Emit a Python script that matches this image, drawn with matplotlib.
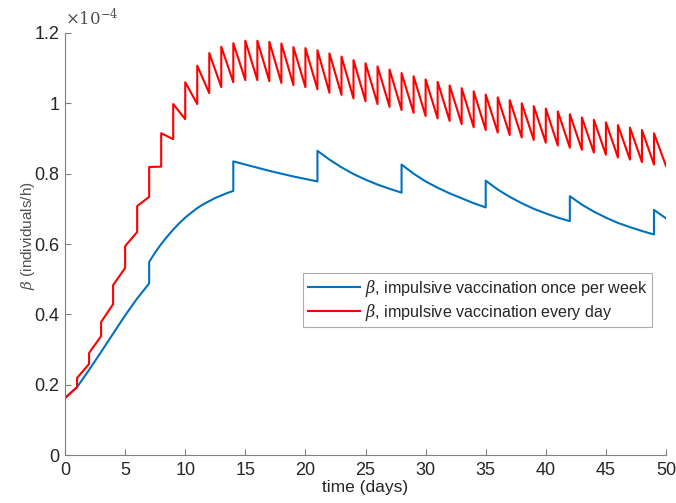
import matplotlib.pyplot as plt
import numpy as np

plt.rcParams["font.family"] = ["Liberation Sans", "DejaVu Sans"]
plt.rcParams["mathtext.fontset"] = "dejavuserif"

# values in units of 1e-4

# weekly impulse (blue): time, value (duplicate time = jump)
blue_t = [0, 1, 2, 3, 4, 5, 6, 7, 7,
          7.5, 8, 8.5, 9, 9.5, 10, 10.5, 11, 11.5, 12, 12.5, 13, 13.5, 14, 14,
          15, 16, 17, 18, 19, 20, 21, 21,
          22, 23, 24, 25, 26, 27, 28, 28,
          29, 30, 31, 32, 33, 34, 35, 35,
          36, 37, 38, 39, 40, 41, 42, 42,
          43, 44, 45, 46, 47, 48, 49, 49, 50]
blue_y = [0.162, 0.193, 0.242, 0.293, 0.345, 0.397, 0.445, 0.488, 0.549,
          0.576, 0.600, 0.621, 0.641, 0.659, 0.675, 0.689, 0.702, 0.713, 0.722,
          0.731, 0.738, 0.745, 0.751, 0.835,
          0.826, 0.817, 0.808, 0.800, 0.792, 0.785, 0.778, 0.865,
          0.840, 0.818, 0.799, 0.783, 0.769, 0.757, 0.746, 0.826,
          0.800, 0.778, 0.760, 0.744, 0.730, 0.716, 0.704, 0.780,
          0.755, 0.734, 0.716, 0.700, 0.687, 0.675, 0.665, 0.736,
          0.712, 0.692, 0.675, 0.660, 0.648, 0.637, 0.627, 0.697, 0.673]

# daily impulse (red): value just before and just after each day's jump
days = list(range(1, 50))
red_start = 0.162
red_before = [0.193, 0.259, 0.338, 0.429, 0.532, 0.634, 0.734, 0.820, 0.898, 0.955,
              0.998, 1.029, 1.046, 1.060, 1.066, 1.066, 1.063, 1.058, 1.052, 1.046,
              1.040, 1.030, 1.024, 1.014, 1.006, 0.998, 0.990, 0.981, 0.973, 0.964,
              0.957, 0.950, 0.941, 0.932, 0.924, 0.917, 0.910, 0.903, 0.896, 0.888,
              0.880, 0.874, 0.868, 0.860, 0.854, 0.846, 0.840, 0.833, 0.826]
red_after = [0.219, 0.290, 0.378, 0.483, 0.594, 0.708, 0.819, 0.915, 0.998, 1.060,
             1.107, 1.143, 1.161, 1.171, 1.178, 1.178, 1.175, 1.170, 1.160, 1.157,
             1.151, 1.142, 1.133, 1.123, 1.114, 1.105, 1.096, 1.086, 1.077, 1.068,
             1.061, 1.051, 1.043, 1.034, 1.025, 1.017, 1.009, 1.000, 0.992, 0.985,
             0.977, 0.969, 0.960, 0.953, 0.946, 0.938, 0.931, 0.924, 0.915]
red_end = 0.822

red_t = [0]
red_y = [red_start]
for d, b, a in zip(days, red_before, red_after):
    red_t += [d, d]
    red_y += [b, a]
red_t.append(50)
red_y.append(red_end)

fig = plt.figure(figsize=(6.76, 5.03), dpi=100)
ax = fig.add_axes([0.0962, 0.0954, 0.889, 0.839])

ax.plot(blue_t, blue_y, color="#0072BD", lw=1.5,
        label=r"$\beta$, impulsive vaccination once per week")
ax.plot(red_t, red_y, color="#FF0000", lw=1.5,
        label=r"$\beta$, impulsive vaccination every day")

ax.set_xlim(0, 50)
ax.set_ylim(0, 1.2)
ax.set_xticks(np.arange(0, 51, 5))
ax.set_yticks([0, 0.2, 0.4, 0.6, 0.8, 1.0, 1.2])
ax.set_yticklabels(["0", "0.2", "0.4", "0.6", "0.8", "1", "1.2"])

for s in ["top", "right"]:
    ax.spines[s].set_visible(False)
for s in ["left", "bottom"]:
    ax.spines[s].set_color("#808080")
    ax.spines[s].set_linewidth(0.8)
ax.tick_params(direction="in", length=4, colors="#808080", labelcolor="#262626",
               labelsize=13)
ax.tick_params(axis="y", pad=4)
ax.tick_params(axis="x", pad=5)

ax.set_xlabel("time (days)", fontsize=12.5, color="#262626", labelpad=1)
ax.set_ylabel(r"$\beta$ (individuals/h)", fontsize=11, color="#505050")
ax.yaxis.set_label_coords(-0.047, 0.52)

ax.text(0.0, 1.01, r"$\times 10^{-4}$", transform=ax.transAxes, fontsize=12,
        color="#505050", ha="left", va="bottom",
        family=["DejaVu Sans"])

leg = ax.legend(loc="upper left", bbox_to_anchor=(0.3965, 0.4306), fontsize=11.6,
                frameon=True, fancybox=False, handlelength=3.2, handletextpad=0.3,
                borderpad=0.3, labelspacing=0.15, borderaxespad=0)
leg.get_frame().set_edgecolor("#999999")
leg.get_frame().set_linewidth(0.8)
for t in leg.get_texts():
    t.set_color("#262626")

fig.savefig("out.png", dpi=100)
